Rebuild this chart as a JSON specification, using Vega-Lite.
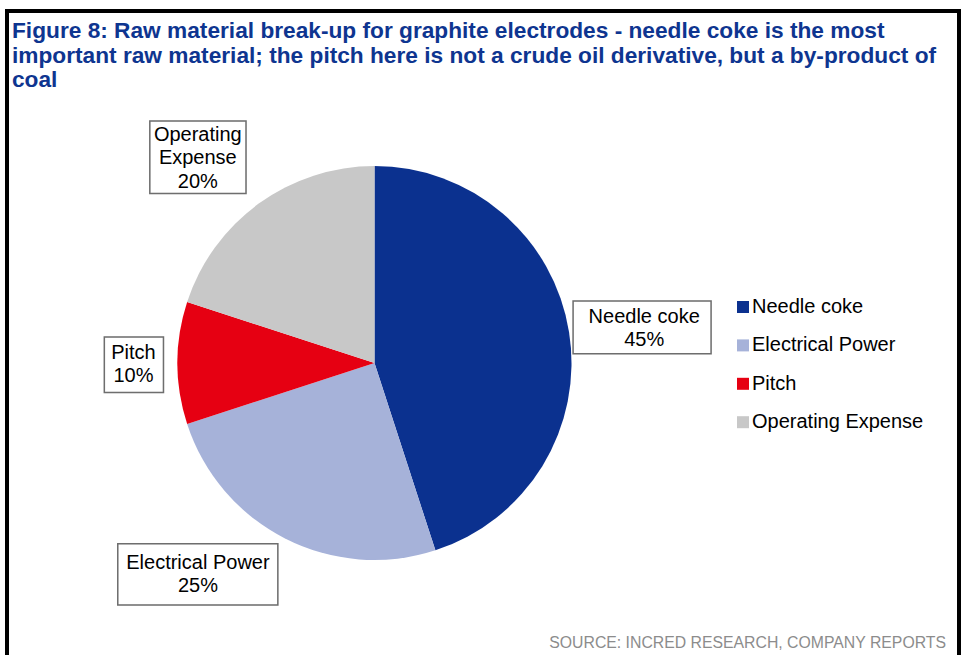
{
  "$schema": "https://vega.github.io/schema/vega-lite/v6.json",
  "autosize": {"type": "pad"},
  "padding": {"left": 5, "top": 9, "right": 0, "bottom": 0},
  "background": "white",
  "config": {"view": {"stroke": "black", "strokeWidth": 4}, "concat": {"spacing": 0}},
  "title": {
    "text": ["Figure 8: Raw material break-up for graphite electrodes - needle coke is the most", "important raw material; the pitch here is not a crude oil derivative, but a by-product of", "coal"],
    "anchor": "start", "frame": "group", "font": "Liberation Sans", "fontSize": 22.7, "fontWeight": "bold",
    "color": "#0E3590", "lineHeight": 24.5, "baseline": "alphabetic", "offset": -101, "dx": 5
  },
  "vconcat": [
    {
      "width": 952,
      "height": 648,
      "view": {"stroke": "black", "strokeWidth": 4, "fill": "white"},
      "title": {
        "text": "SOURCE: INCRED RESEARCH, COMPANY REPORTS",
        "orient": "bottom", "anchor": "end", "frame": "group", "font": "Liberation Sans", "fontSize": 15.8,
        "fontWeight": "normal", "color": "#8C8C8C", "baseline": "alphabetic", "offset": -11.5, "dx": -13
      },
      "data": {"values": [
        {"category": "Needle coke", "value": 45},
        {"category": "Electrical Power", "value": 25},
        {"category": "Pitch", "value": 10},
        {"category": "Operating Expense", "value": 20}
      ]},
      "transform": [
        {"calculate": "indexof(['Needle coke','Electrical Power','Pitch','Operating Expense'], datum.category)", "as": "ord"},
        {"calculate": "(datum.category === 'Operating Expense' ? 'Operating\\nExpense' : datum.category) + '\\n' + datum.value + '%'", "as": "label"}
      ],
      "encoding": {
        "theta": {"field": "value", "type": "quantitative", "stack": true},
        "order": {"field": "ord", "type": "quantitative"}
      },
      "layer": [
        {
          "mark": {"type": "arc", "radius": 197, "x": 367.5, "y": 352, "strokeWidth": 0},
          "encoding": {
            "color": {
              "field": "category", "type": "nominal",
              "scale": {"domain": ["Needle coke", "Electrical Power", "Pitch", "Operating Expense"], "range": ["#0B318F", "#A6B2D9", "#E60012", "#C8C8C8"]},
              "legend": {"orient": "none", "legendX": 726, "legendY": 286, "title": null, "symbolType": "square", "symbolSize": 144, "symbolStrokeWidth": 0, "labelFont": "Liberation Sans", "labelFontSize": 20, "labelColor": "black", "labelOffset": -1, "rowPadding": 18.4, "padding": 0, "labelLimit": 400}
            }
          }
        },
        {
          "mark": {
            "type": "text", "font": "DejaVu Sans", "radius": 270, "x": 367.5, "y": 352, "align": "center", "baseline": "alphabetic",
            "fill": "white", "stroke": "#6E6E6E", "strokeWidth": 1.5,
            "text": {"expr": "datum.category === 'Pitch' ? '▅' : datum.category === 'Operating Expense' ? '▄' : '▂'"},
            "fontSize": {"expr": "datum.category === 'Needle coke' ? 175 : datum.category === 'Electrical Power' ? 203 : datum.category === 'Pitch' ? 75 : 122"},
            "dx": {"expr": "datum.category === 'Needle coke' ? 1 : datum.category === 'Electrical Power' ? -54 : datum.category === 'Pitch' ? 29.5 : -18"},
            "dy": {"expr": "datum.category === 'Needle coke' ? -11 : datum.category === 'Electrical Power' ? -50 : datum.category === 'Pitch' ? 11.4 : 18.5"}
          },
          "encoding": {}
        },
        {
          "mark": {
            "type": "text", "font": "Liberation Sans", "fontSize": 20, "lineHeight": 23.3, "lineBreak": "\n", "radius": 270, "x": 367.5, "y": 352,
            "align": "center", "baseline": "middle", "color": "black",
            "dx": {"expr": "datum.category === 'Needle coke' ? 3 : datum.category === 'Electrical Power' ? -54 : datum.category === 'Pitch' ? 29 : -18"},
            "dy": {"expr": "datum.category === 'Needle coke' ? -4 : datum.category === 'Electrical Power' ? -40.6 : datum.category === 'Pitch' ? -10 : -9.6"}
          },
          "encoding": {"text": {"field": "label", "type": "nominal"}}
        }
      ]
    }
  ]
}
